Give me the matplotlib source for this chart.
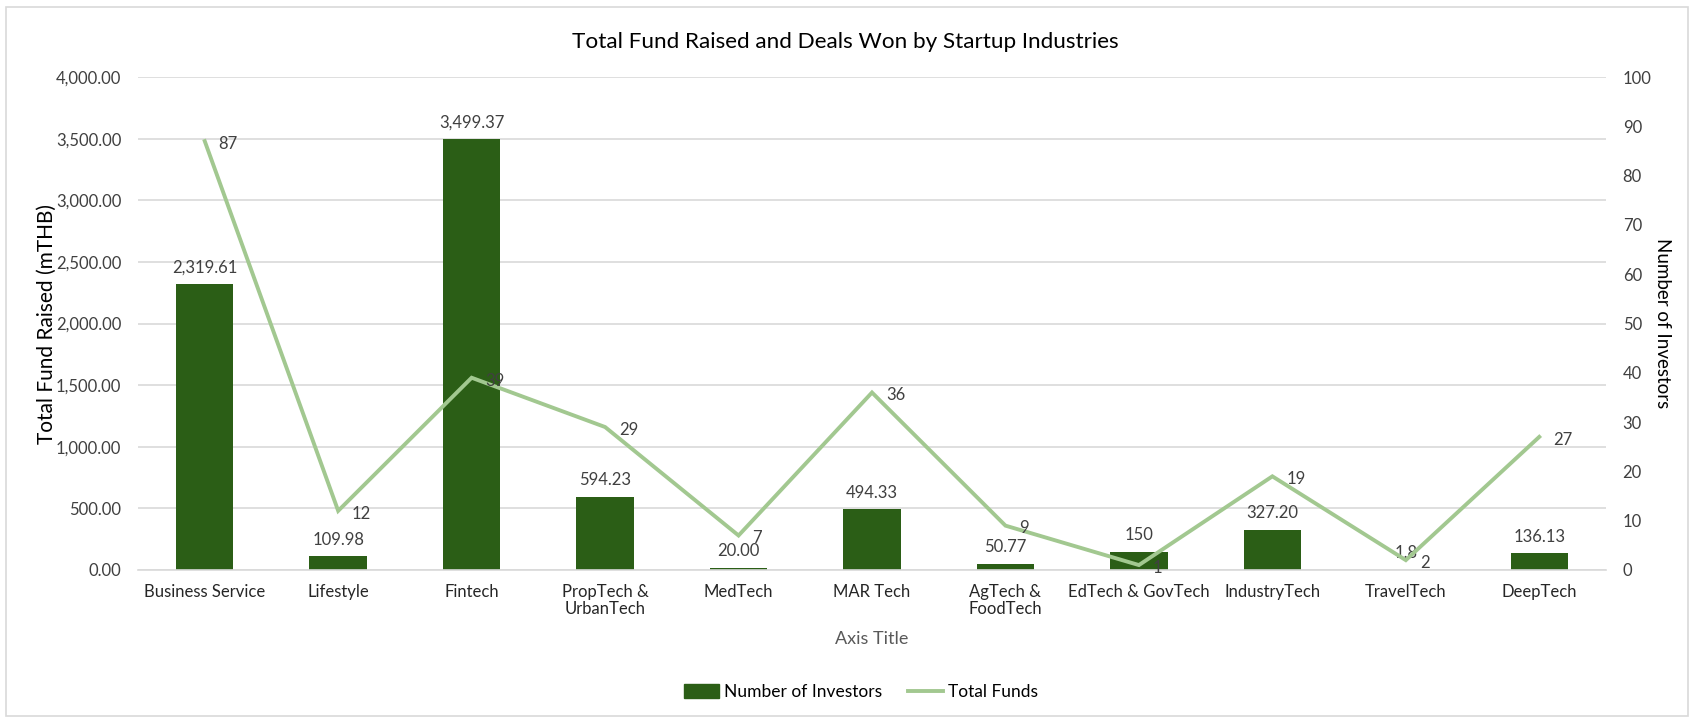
import matplotlib
matplotlib.use("Agg")
import matplotlib.pyplot as plt
from matplotlib.patches import Rectangle, Patch
from matplotlib.lines import Line2D
from matplotlib.ticker import FuncFormatter, MultipleLocator

plt.rcParams['font.family'] = ['Lato', 'DejaVu Sans']

categories = ["Business Service", "Lifestyle", "Fintech", "PropTech &\nUrbanTech", "MedTech",
              "MAR Tech", "AgTech &\nFoodTech", "EdTech & GovTech", "IndustryTech",
              "TravelTech", "DeepTech"]
fund_raised = [2319.61, 109.98, 3499.37, 594.23, 20.00, 494.33, 50.77, 150, 327.20, 1.8, 136.13]
fund_labels = ["2,319.61", "109.98", "3,499.37", "594.23", "20.00", "494.33", "50.77",
               "150", "327.20", "1.8", "136.13"]
investors = [87, 12, 39, 29, 7, 36, 9, 1, 19, 2, 27]

BAR = '#2B5E16'
LINE = '#A2C890'
GRID = '#D9D9D9'
TXT = '#404040'

W, H = 1694, 719
fig = plt.figure(figsize=(W / 100, H / 100), dpi=100)
fig.patches.append(Rectangle((6 / W, 3 / H), (1688 - 6) / W, (712 - 3) / H,
                             transform=fig.transFigure, fill=False,
                             edgecolor='#D9D9D9', linewidth=1.2))

ax = fig.add_axes([138 / W, 1 - 570 / H, (1606 - 138) / W, (570 - 77) / H])
x = list(range(len(categories)))
ax.bar(x, fund_raised, width=0.43, color=BAR, zorder=2)
ax.set_xlim(-0.5, len(categories) - 0.5)
ax.set_ylim(0, 4000)
ax.yaxis.set_major_locator(MultipleLocator(500))
ax.yaxis.set_major_formatter(FuncFormatter(lambda v, p: f"{v:,.2f}"))
ax.grid(axis='y', color=GRID, linewidth=1.2, zorder=0)
ax.set_axisbelow(True)
for s in ['top', 'right', 'left']:
    ax.spines[s].set_visible(False)
ax.spines['bottom'].set_color(GRID)
ax.spines['bottom'].set_linewidth(1.2)
ax.tick_params(axis='both', length=0, labelsize=12, colors=TXT)
ax.tick_params(axis='y', pad=12)
ax.tick_params(axis='x', pad=10, labelcolor='#262626')
ax.set_xticks(x)
ax.set_xticklabels(categories, linespacing=1.1)
ax.set_ylabel("Total Fund Raised (mTHB)", fontsize=15, color='black', labelpad=-1)
ax.set_xlabel("Axis Title", fontsize=13, color='#595959', labelpad=10)

for xi, v, lab in zip(x, fund_raised, fund_labels):
    ax.annotate(lab, (xi, v), xytext=(0, 6), textcoords='offset points',
                ha='center', va='bottom', fontsize=12, color=TXT, zorder=3)

ax2 = ax.twinx()
ax2.plot(x, investors, color=LINE, linewidth=2.8, solid_joinstyle='miter', zorder=3)
ax2.set_ylim(0, 100)
ax2.yaxis.set_major_locator(MultipleLocator(10))
for s in ['top', 'right', 'left', 'bottom']:
    ax2.spines[s].set_visible(False)
ax2.tick_params(axis='y', length=0, labelsize=12, colors=TXT, pad=12)
ax2.set_ylabel("Number of Investors", fontsize=13.5, color='black', rotation=270,
               labelpad=14)
for xi, v in zip(x, investors):
    ax2.annotate(str(v), (xi, v), xytext=(10, -2), textcoords='offset points',
                 ha='left', va='center', fontsize=12, color=TXT, zorder=4)

fig.text(845 / W, 1 - 42 / H,
         "Total Fund Raised and Deals Won by Startup Industries",
         ha='center', va='center', fontsize=16.2, color='black')

handles = [Patch(facecolor=BAR, edgecolor=BAR),
           Line2D([0], [0], color=LINE, linewidth=2.8)]
fig.legend(handles, ["Number of Investors", "Total Funds"], loc='center',
           bbox_to_anchor=(861 / W, 1 - 692 / H), ncol=2, frameon=False,
           fontsize=12.5, labelcolor='black', handlelength=2.0, handleheight=0.9,
           handletextpad=0.3, columnspacing=1.5)

fig.savefig("out.png", dpi=100)
